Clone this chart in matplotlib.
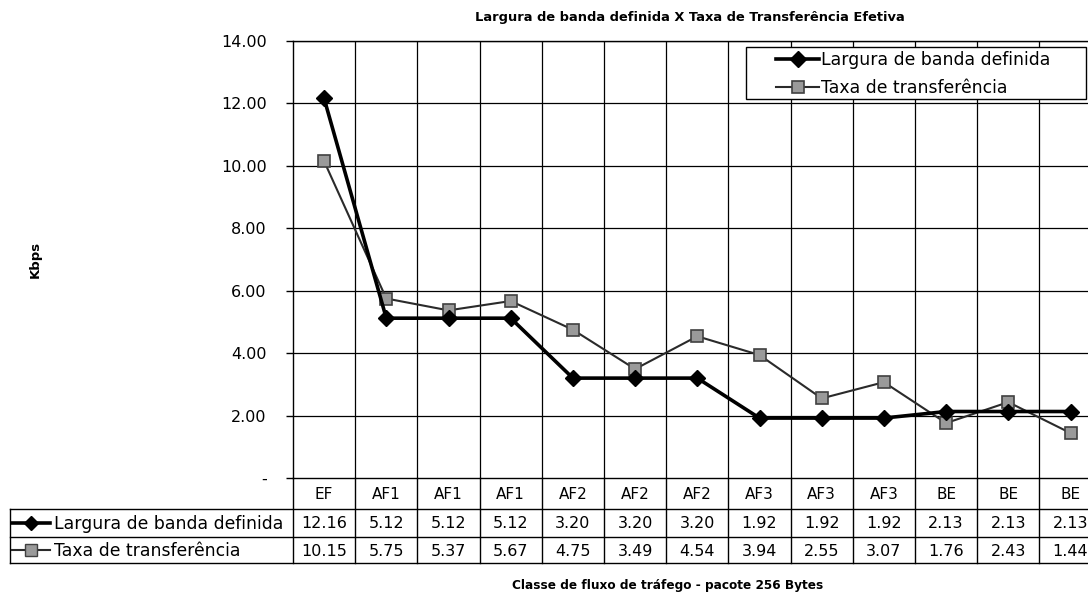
import matplotlib
matplotlib.use("Agg")
from matplotlib import pyplot as plt
from matplotlib.lines import Line2D
from matplotlib.patches import Rectangle
from matplotlib.transforms import blended_transform_factory
import numpy as np

plt.rcParams['font.family'] = ['DejaVu Sans']

# Dados
classes = ['EF', 'AF1', 'AF1', 'AF1', 'AF2', 'AF2', 'AF2', 'AF3', 'AF3', 'AF3', 'BE', 'BE', 'BE']
largura = [12.16, 5.12, 5.12, 5.12, 3.20, 3.20, 3.20, 1.92, 1.92, 1.92, 2.13, 2.13, 2.13]
taxa = [10.15, 5.75, 5.37, 5.67, 4.75, 3.49, 4.54, 3.94, 2.55, 3.07, 1.76, 2.43, 1.44]
nome1 = 'Largura de banda definida'
nome2 = 'Taxa de transferência'
yticks = [0, 2, 4, 6, 8, 10, 12, 14]

W, H = 1088, 596
fig = plt.figure(figsize=(W / 100, H / 100), dpi=100)
fy = lambda p: 1 - p / H

# eixo (em pixels -> fração)
x0, x1 = 293, 293 + 13 * 62.2
y_top, y_bot = 41, 478
ax = fig.add_axes([x0 / W, 1 - y_bot / H, (x1 - x0) / W, (y_bot - y_top) / H])

x = np.arange(len(classes))
ax.plot(x, largura, color='black', lw=2.6, marker='D', ms=8.5, mfc='black', mec='black',
        label=nome1, zorder=4)
ax.plot(x, taxa, color='#2a2a2a', lw=1.5, marker='s', ms=9, mfc='#9a9a9a', mec='#404040',
        mew=1.2, label=nome2, zorder=3)

ax.set_xlim(-0.5, len(classes) - 0.5)
ax.set_ylim(0, 14)
ax.set_yticks(yticks)
ax.set_yticklabels(['-' if v == 0 else '%.2f' % v for v in yticks], fontsize=11.5)
ax.set_xticks([])
ax.tick_params(axis='y', direction='out', length=5, width=1, pad=14)

# grade
for v in yticks[1:]:
    ax.axhline(v, color='black', lw=0.9, zorder=1)
for i in range(len(classes)):
    ax.axvline(i + 0.5, color='black', lw=0.9, zorder=1)
for s in ax.spines.values():
    s.set_color('black')
    s.set_linewidth(1.0)

ax.set_ylabel('Kbps', fontsize=9.5, fontweight='bold', labelpad=0)
ax.yaxis.set_label_coords(-(x0 - 42) / (x1 - x0), 0.5)

fig.text(690 / W, fy(18), 'Largura de banda definida X Taxa de Transferência Efetiva',
         ha='center', va='center', fontsize=9.4, fontweight='bold')

# legenda: moldura própria e legenda sem moldura dentro dela
ax.add_patch(Rectangle((746 / W, fy(99)), (1086 - 746) / W, (99 - 47) / H, transform=fig.transFigure,
                       facecolor='white', edgecolor='black', lw=1.0, zorder=5, clip_on=False))
leg = ax.legend(loc='upper left', bbox_to_anchor=(776 / W, fy(51)), bbox_transform=fig.transFigure,
                fontsize=12.4, frameon=False, handlelength=2.5, handletextpad=0.1, borderpad=0,
                labelspacing=0.6, borderaxespad=0)
leg.set_zorder(6)

# tabela de dados
tr = blended_transform_factory(ax.transData, fig.transFigure)
trf = fig.transFigure
r0, r1, r2, r3 = 478, 509, 537, 563
left = 10

for yy in (r1, r2, r3):
    fig.add_artist(Line2D([left / W, 1], [fy(yy), fy(yy)], color='black', lw=1.0, transform=trf))
fig.add_artist(Line2D([left / W, left / W], [fy(r1), fy(r3)], color='black', lw=1.0, transform=trf))
fig.add_artist(Line2D([x0 / W, x0 / W], [fy(r0), fy(r3)], color='black', lw=1.0, transform=trf))
for i in range(len(classes)):
    fig.add_artist(Line2D([i + 0.5, i + 0.5], [fy(r0), fy(r3)], color='black', lw=1.0, transform=tr))
    fig.text(i, fy((r0 + r1) / 2 + 1), classes[i], transform=tr, ha='center', va='center', fontsize=11)
    fig.text(i, fy((r1 + r2) / 2 + 1), '%.2f' % largura[i], transform=tr, ha='center', va='center',
             fontsize=11.5)
    fig.text(i, fy((r2 + r3) / 2 + 1), '%.2f' % taxa[i], transform=tr, ha='center', va='center',
             fontsize=11.5)

# rótulos das linhas com símbolo
fig.add_artist(Line2D([12 / W, 50 / W], [fy((r1 + r2) / 2)] * 2, color='black', lw=2.6, transform=trf))
fig.add_artist(Line2D([31 / W], [fy((r1 + r2) / 2)], marker='D', ms=7, color='black', transform=trf))
fig.add_artist(Line2D([12 / W, 50 / W], [fy((r2 + r3) / 2)] * 2, color='#2a2a2a', lw=1.5, transform=trf))
fig.add_artist(Line2D([31 / W], [fy((r2 + r3) / 2)], marker='s', ms=8, mfc='#9a9a9a', mec='#404040',
                      transform=trf))
fig.text(54 / W, fy((r1 + r2) / 2 + 1), nome1, ha='left', va='center', fontsize=12.4)
fig.text(54 / W, fy((r2 + r3) / 2 + 1), nome2, ha='left', va='center', fontsize=12.4)

fig.text(668 / W, fy(585), 'Classe de fluxo de tráfego - pacote 256 Bytes', ha='center', va='center',
         fontsize=8.7, fontweight='bold')

fig.savefig('out.png', dpi=100)
